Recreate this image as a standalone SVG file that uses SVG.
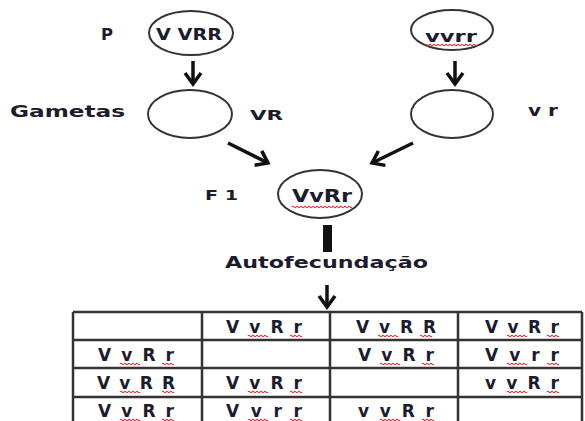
<svg xmlns="http://www.w3.org/2000/svg" xmlns:xlink="http://www.w3.org/1999/xlink" width="585" height="421" viewBox="0 0 585 421">
<style>
.lbl{font-family:"DejaVu Sans","Liberation Sans",sans-serif;font-weight:bold;fill:#1c1c2c}
.cell{font-family:"DejaVu Sans","Liberation Sans",sans-serif;font-weight:bold;font-size:17px;fill:#1c1c2c;text-anchor:middle}
.ell{fill:#fff;stroke:#333;stroke-width:2}
.wave{fill:none;stroke:#e0303a;stroke-width:1.1}
.arr{stroke:#111;stroke-width:3.5;fill:none;marker-end:url(#head)}
.grid{stroke:#333;stroke-width:2.5;fill:none}
</style>
<defs>
<marker id="head" viewBox="0 0 20 20" refX="16" refY="10" markerWidth="20" markerHeight="20" markerUnits="userSpaceOnUse" orient="auto">
<path d="M5,2 L16,10 L5,18" fill="none" stroke="#111" stroke-width="3.5"/>
</marker>
<path id="w20" class="wave" d="M0,0q1,-1.6 2,0t2,0t2,0t2,0t2,0t2,0t2,0t2,0t2,0t2,0"/>
<path id="w12" class="wave" d="M0,0q1,-1.6 2,0t2,0t2,0t2,0t2,0t2,0"/>
</defs>
<rect width="585" height="421" fill="#fff"/>

<g id="parent1">
<text class="lbl" x="101" y="40" font-size="16" textLength="12" lengthAdjust="spacingAndGlyphs">P</text>
<ellipse class="ell" cx="191" cy="33" rx="42" ry="22"/>
<text class="lbl" x="156" y="40" font-size="15" textLength="66" lengthAdjust="spacingAndGlyphs">V VRR</text>
</g>
<g id="parent2">
<ellipse class="ell" cx="452" cy="30" rx="41" ry="20"/>
<text class="lbl" x="425" y="42" font-size="15" textLength="52" lengthAdjust="spacingAndGlyphs">vvrr</text>
<path class="wave" d="M425,45q1,-1.6 2,0t2,0t2,0t2,0t2,0t2,0t2,0t2,0t2,0t2,0t2,0t2,0t2,0t2,0t2,0t2,0t2,0t2,0t2,0t2,0t2,0t2,0t2,0t2,0t2,0t2,0"/>
</g>
<g id="gamete1">
<text class="lbl" x="10" y="117" font-size="16" textLength="115" lengthAdjust="spacingAndGlyphs">Gametas</text>
<ellipse class="ell" cx="190" cy="114" rx="42" ry="24"/>
<text class="lbl" x="250" y="120" font-size="14" textLength="33" lengthAdjust="spacingAndGlyphs">VR</text>
</g>
<g id="gamete2">
<ellipse class="ell" cx="452" cy="114" rx="41" ry="24"/>
<text class="lbl" x="528" y="116" font-size="15" textLength="30" lengthAdjust="spacingAndGlyphs">v r</text>
</g>
<g id="f1">
<text class="lbl" x="205" y="200" font-size="14" textLength="33" lengthAdjust="spacingAndGlyphs">F 1</text>
<ellipse class="ell" cx="320" cy="194" rx="42" ry="24"/>
<text class="lbl" x="292" y="202" font-size="17" textLength="60" lengthAdjust="spacingAndGlyphs" fill="#1c2a5a">VvRr</text>
<path class="wave" d="M292,207q1,-1.6 2,0t2,0t2,0t2,0t2,0t2,0t2,0t2,0t2,0t2,0t2,0t2,0t2,0t2,0t2,0t2,0t2,0t2,0t2,0t2,0t2,0t2,0t2,0t2,0t2,0t2,0t2,0t2,0t2,0t2,0"/>
</g>
<g id="autofecundacao">
<text class="lbl" x="225" y="268" font-size="15" textLength="203" lengthAdjust="spacingAndGlyphs">Autofecundação</text>
</g>

<g id="connectors">
<line class="arr" x1="193" y1="61" x2="193" y2="84"/>
<line class="arr" x1="455" y1="61" x2="455" y2="84"/>
<line class="arr" x1="228" y1="143" x2="268" y2="163"/>
<line class="arr" x1="413" y1="143" x2="372" y2="163"/>
<rect x="323" y="225" width="9" height="27" fill="#111"/>
<line class="arr" x1="327" y1="285" x2="327" y2="307"/>
</g>

<g id="table">
<path class="grid" d="M73,312H582M73,340H582M73,368H582M73,397H582M73,312V421M202,312V421M330,312V421M458,312V421M582,312V421"/>
<g id="cells">
<text class="cell" x="264" y="333" textLength="76" lengthAdjust="spacing">V v R r</text>
<text class="cell" x="396" y="333" textLength="80" lengthAdjust="spacing">V v R R</text>
<text class="cell" x="522" y="333" textLength="74" lengthAdjust="spacing">V v R r</text>
<text class="cell" x="136" y="361" textLength="76" lengthAdjust="spacing">V v R r</text>
<text class="cell" x="396" y="361" textLength="76" lengthAdjust="spacing">V v R r</text>
<text class="cell" x="522" y="361" textLength="74" lengthAdjust="spacing">V v r r</text>
<text class="cell" x="136" y="389" textLength="78" lengthAdjust="spacing">V v R R</text>
<text class="cell" x="264" y="389" textLength="76" lengthAdjust="spacing">V v R r</text>
<text class="cell" x="522" y="389" textLength="74" lengthAdjust="spacing">v v R r</text>
<text class="cell" x="136" y="417" textLength="76" lengthAdjust="spacing">V v R r</text>
<text class="cell" x="264" y="417" textLength="76" lengthAdjust="spacing">V v r r</text>
<text class="cell" x="396" y="417" textLength="76" lengthAdjust="spacing">v v R r</text>
</g>
<g id="spellmarks">
<use href="#w20" x="248" y="336"/><use href="#w12" x="290" y="336"/>
<use href="#w20" x="378" y="336"/><use href="#w12" x="420" y="336"/>
<use href="#w20" x="507" y="336"/><use href="#w12" x="547" y="336"/>
<use href="#w20" x="120" y="364"/><use href="#w12" x="162" y="364"/>
<use href="#w20" x="380" y="364"/><use href="#w12" x="422" y="364"/>
<use href="#w20" x="507" y="364"/><use href="#w12" x="547" y="364"/>
<use href="#w20" x="120" y="392"/><use href="#w12" x="162" y="392"/>
<use href="#w20" x="248" y="392"/><use href="#w12" x="290" y="392"/>
<use href="#w20" x="507" y="392"/><use href="#w12" x="547" y="392"/>
<use href="#w20" x="120" y="420"/><use href="#w12" x="162" y="420"/>
<use href="#w20" x="248" y="420"/><use href="#w12" x="290" y="420"/>
<use href="#w20" x="380" y="420"/><use href="#w12" x="422" y="420"/>
</g>
</g>
</svg>
